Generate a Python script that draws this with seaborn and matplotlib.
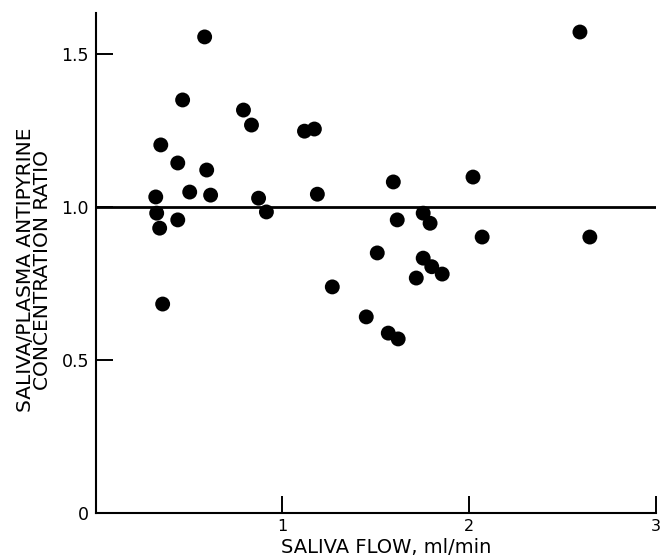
import pandas as pd
import matplotlib.pyplot as plt
import seaborn as sns

# -----------------------------
# DATA
# -----------------------------
saliva_flow = [
    0.583, 0.465, 0.791, 0.834, 1.118, 1.171, 0.348, 0.439, 0.594,
    0.503, 0.615, 1.187, 0.321, 0.872, 0.326, 0.914, 0.439, 0.342,
    0.358, 1.594, 2.021, 2.594, 1.754, 1.791, 1.615, 2.070, 2.647,
    1.508, 1.754, 1.800, 1.856, 1.717, 1.267, 1.449, 1.567, 1.620,
]
ratio = [
    1.556, 1.350, 1.317, 1.268, 1.248, 1.255, 1.203, 1.144, 1.121,
    1.049, 1.039, 1.042, 1.033, 1.029, 0.980, 0.984, 0.958, 0.931,
    0.683, 1.082, 1.098, 1.572, 0.980, 0.947, 0.958, 0.902, 0.902,
    0.850, 0.833, 0.805, 0.781, 0.768, 0.739, 0.641, 0.588, 0.569,
]
x_ticks = [1, 2, 3]
y_ticks = [0, 0.5, 1.0, 1.5]
y_tick_labels = ["0", "0.5", "1.0", "1.5"]
reference_ratio = 1.0

df = pd.DataFrame({"flow": saliva_flow, "ratio": ratio})

# -----------------------------
# STYLE
# -----------------------------
sns.set_style("ticks")
plt.rcParams["font.family"] = ["DejaVu Sans"]

fig = plt.figure(figsize=(6.61, 5.58), dpi=100)
ax = fig.add_axes([0.145, 0.0806, 0.847, 0.896])

# -----------------------------
# PLOT
# -----------------------------
sns.scatterplot(data=df, x="flow", y="ratio", color="black",
                edgecolor="none", s=115, ax=ax, zorder=3)
ax.axhline(reference_ratio, color="black", lw=2, zorder=2)

ax.set_xlim(0, 3)
ax.set_ylim(0, 1.634)
ax.set_xticks(x_ticks)
ax.set_xticklabels([str(t) for t in x_ticks])
ax.set_yticks(y_ticks)
ax.set_yticklabels(y_tick_labels)

ax.tick_params(direction="in", length=12, width=1.4, labelsize=12.5,
               colors="black")
ax.tick_params(axis="x", pad=4, labelsize=11.5)
ax.tick_params(axis="y", pad=5)

for side in ["top", "right"]:
    ax.spines[side].set_visible(False)
for side in ["left", "bottom"]:
    ax.spines[side].set_linewidth(1.5)
    ax.spines[side].set_color("black")

ax.set_xlabel("SALIVA FLOW, ml/min", fontsize=14, color="black")
ax.set_ylabel("SALIVA/PLASMA ANTIPYRINE\nCONCENTRATION RATIO",
              fontsize=14.5, linespacing=0.88, color="black")
ax.xaxis.set_label_coords(0.518, -0.049)
ax.yaxis.set_label_coords(-0.078, 0.486)

fig.savefig("out.png", dpi=100)
plt.close()
